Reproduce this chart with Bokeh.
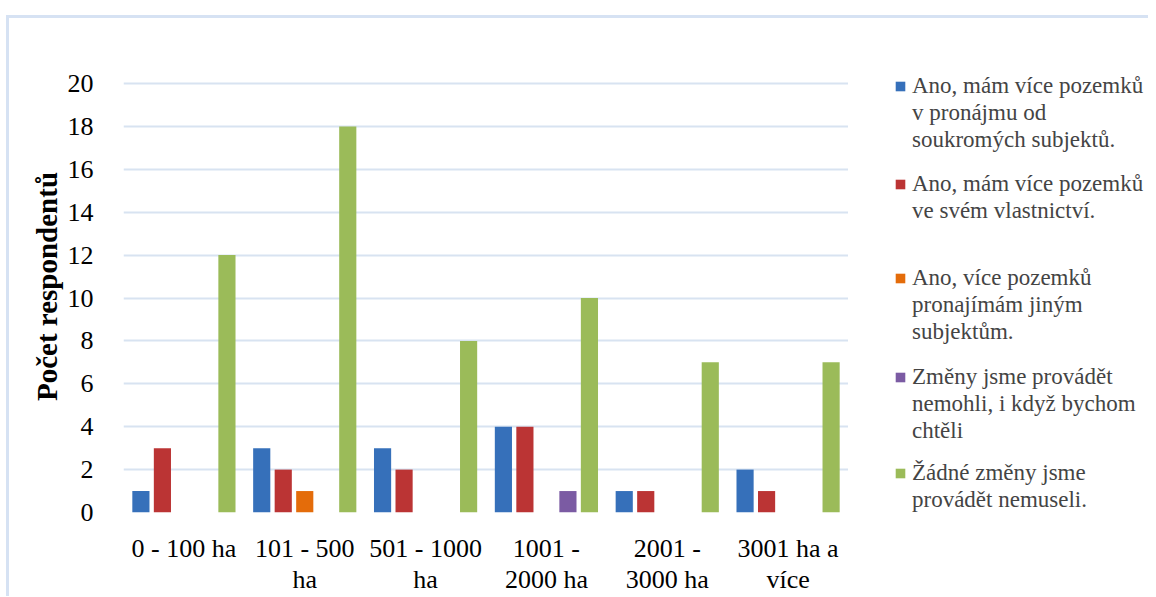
from bokeh.plotting import figure
from bokeh.layouts import row
from bokeh.models import (FactorRange, Legend, LegendItem, Range1d, SingleIntervalTicker,
                          ColumnDataSource)
from bokeh.transform import dodge
from bokeh.embed import file_html
from bokeh.resources import INLINE

categories = ["0 - 100 ha", "101 - 500\nha", "501 - 1000\nha", "1001 -\n2000 ha",
              "2001 -\n3000 ha", "3001 ha a\nvíce"]
series_names = [
    ["Ano, mám více pozemků", "v pronájmu od", "soukromých subjektů."],
    ["Ano, mám více pozemků", "ve svém vlastnictví."],
    ["Ano, více pozemků", "pronajímám jiným", "subjektům."],
    ["Změny jsme provádět", "nemohli, i když bychom", "chtěli"],
    ["Žádné změny jsme", "provádět nemuseli."],
]
s_blue = [1, 3, 3, 4, 1, 2]
s_red = [3, 2, 2, 4, 1, 1]
s_orange = [0, 1, 0, 0, 0, 0]
s_purple = [0, 0, 0, 1, 0, 0]
s_green = [12, 18, 8, 10, 7, 7]
y_max = 20

colors = ["#3670ba", "#bb3434", "#e46c0a", "#7b5ba3", "#9bbb59"]
offsets = [-0.356, -0.178, 0.0, 0.178, 0.356]
legend_tops = [72, 170, 264, 363, 459]   # page y of the top of each legend entry

src = ColumnDataSource(dict(cat=categories, s0=s_blue, s1=s_red, s2=s_orange,
                            s3=s_purple, s4=s_green))

FONT = "Liberation Serif"
BORDER = "#d6e2f3"
OFF_X, OFF_Y = 9, 18          # container margin + border
TOP20, FRAME_BOTTOM = 83, 512  # page y of the "20" gridline and of the 0 line
FRAME_TOP = 60                 # frame extends a bit above 20 so the legend is not clipped
y_end = y_max * (FRAME_BOTTOM - FRAME_TOP) / (FRAME_BOTTOM - TOP20)

p = figure(x_range=FactorRange(*categories), y_range=Range1d(0, y_end),
           frame_width=725, frame_height=FRAME_BOTTOM - FRAME_TOP,
           output_backend="svg", toolbar_location=None,
           min_border_left=123 - OFF_X, min_border_right=0, min_border_top=FRAME_TOP - OFF_Y,
           min_border_bottom=77)

for i in range(5):
    p.vbar(x=dodge("cat", offsets[i], range=p.x_range), top=f"s{i}", width=0.142,
           source=src, fill_color=colors[i], line_color=None)

p.outline_line_color = None
p.xgrid.grid_line_color = None
p.ygrid.grid_line_color = "#d8e3f1"
p.ygrid.grid_line_width = 2
p.yaxis.ticker = SingleIntervalTicker(interval=2)
for ax in (p.xaxis, p.yaxis):
    ax.axis_line_color = None
    ax.major_tick_line_color = None
    ax.minor_tick_line_color = None
    ax.major_label_text_font = FONT
    ax.major_label_text_font_size = "26px"
    ax.major_label_text_color = "black"

p.xaxis.major_label_text_line_height = 1.07
p.xaxis.major_label_standoff = 15
p.yaxis.major_label_standoff = 24
p.yaxis.axis_label = "Počet respondentů"
p.yaxis.axis_label_text_font = FONT
p.yaxis.axis_label_text_font_style = "bold"
p.yaxis.axis_label_text_font_size = "29px"
p.yaxis.axis_label_text_color = "black"
p.yaxis.axis_label_standoff = 2

# legend panel (its frame is aligned with the main plot's frame)
LH = 27
lp = figure(frame_width=1148 - 848, frame_height=FRAME_BOTTOM - FRAME_TOP,
            x_range=Range1d(0, 1), y_range=Range1d(0, 1),
            output_backend="svg", toolbar_location=None, x_axis_location=None,
            y_axis_location=None, min_border_left=0, min_border_right=0,
            min_border_top=FRAME_TOP - OFF_Y, min_border_bottom=77,
            outline_line_color=None)
lp.grid.visible = False
blank = lp.vbar(x=[0.5], top=[0], width=0, fill_alpha=0, line_alpha=0)
for i in range(5):
    sw = lp.vbar(x=[0.5], top=[0], width=0, fill_color=colors[i], line_color=None)
    items = [LegendItem(label=series_names[i][0], renderers=[sw])]
    items += [LegendItem(label=t, renderers=[blank]) for t in series_names[i][1:]]
    n = len(series_names[i])
    lg = Legend(items=items,
                location=(894 - 848, FRAME_BOTTOM - (legend_tops[i] + n * LH)),
                glyph_width=12, glyph_height=12, label_height=LH,
                label_text_font=FONT, label_text_font_size="23px",
                spacing=0, padding=0, margin=0, label_standoff=6,
                border_line_color=None, background_fill_alpha=0)
    lp.add_layout(lg, "center")

layout = row(p, lp, styles={"margin-left": "6px", "margin-top": "15px",
                            "border-left": f"3px solid {BORDER}",
                            "border-top": f"3px solid {BORDER}"})

open("out.html", "w").write(file_html(layout, INLINE))
